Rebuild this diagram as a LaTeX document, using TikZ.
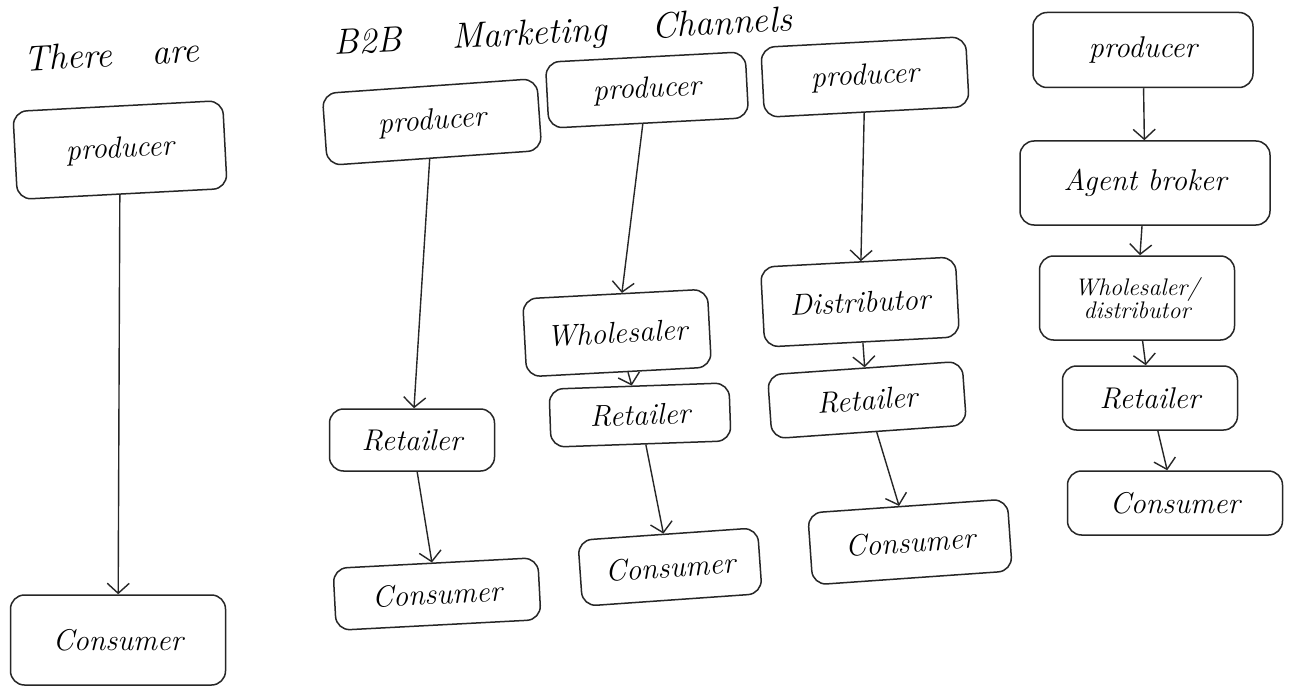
\documentclass[tikz,border=0pt]{standalone}
\usetikzlibrary{arrows.meta}
\tikzset{
  stage/.style={draw=black!85, line width=1.5pt, rounded corners=14pt, minimum width=#1, inner sep=2pt, align=center, font=\fontsize{30}{32}\selectfont\itshape},
  stage/.default=180pt,
  flow/.style={draw=black!85, line width=1.4pt, -{Straight Barb[length=10pt,width=22pt,line width=1.4pt]}},
  head/.style={font=\fontsize{36}{38}\selectfont\itshape, inner sep=0pt, rotate=3}
}
\begin{document}
\begin{tikzpicture}[x=1pt,y=-1pt]
  \useasboundingbox (0,0) rectangle (1301,690);
  \fill[white] (0,0) rectangle (1301,690);

  % heading
  \node[head] (title) at (408,42) {There\hspace{40pt}are\hspace{135pt}B2B\hspace{50pt}Marketing\hspace{45pt}Channels};

  % channel 1: producer -> consumer
  \node[stage=210pt, minimum height=88pt, rotate=3] (p1) at (120,150) {producer};
  \node[stage=215pt, minimum height=90pt] (c1) at (118,640) {Consumer};
  \draw[flow] (p1) -- (c1);

  % channel 2: producer -> retailer -> consumer
  \node[stage=215pt, minimum height=72pt, rotate=4] (p2) at (432,122) {producer};
  \node[stage=165pt, minimum height=62pt] (r2) at (412,440) {Retailer};
  \node[stage=205pt, minimum height=62pt, rotate=3] (c2) at (437,594) {Consumer};
  \draw[flow] (p2) -- (r2);
  \draw[flow] (r2) -- (c2);

  % channel 3: producer -> wholesaler -> retailer -> consumer
  \node[stage=200pt, minimum height=66pt, rotate=3] (p3) at (647,90) {producer};
  \node[stage=185pt, minimum height=78pt, rotate=3] (w3) at (617,333) {Wholesaler};
  \node[stage=180pt, minimum height=58pt, rotate=2] (r3) at (640,415) {Retailer};
  \node[stage=180pt, minimum height=66pt, rotate=4] (c3) at (670,567) {Consumer};
  \draw[flow] (p3) -- (w3);
  \draw[flow] (w3) -- (r3);
  \draw[flow] (r3) -- (c3);

  % channel 4: producer -> distributor -> retailer -> consumer
  \node[stage=205pt, minimum height=70pt, rotate=3] (p4) at (865,77) {producer};
  \node[stage=195pt, minimum height=80pt, rotate=3] (d4) at (860,302) {Distributor};
  \node[stage=195pt, minimum height=64pt, rotate=4] (r4) at (867,400) {Retailer};
  \node[stage=200pt, minimum height=72pt, rotate=4] (c4) at (910,542) {Consumer};
  \draw[flow] (p4) -- (d4);
  \draw[flow] (d4) -- (r4);
  \draw[flow] (r4) -- (c4);

  % channel 5: producer -> agent broker -> wholesaler/distributor -> retailer -> consumer
  \node[stage=220pt, minimum height=75pt] (p5) at (1143,50) {producer};
  \node[stage=250pt, minimum height=84pt] (a5) at (1145,183) {Agent broker};
  \node[stage=195pt, minimum height=84pt, font=\fontsize{24}{25}\selectfont\itshape] (w5) at (1137,298) {Wholesaler/\\[-2pt] distributor};
  \node[stage=175pt, minimum height=64pt] (r5) at (1150,398) {Retailer};
  \node[stage=215pt, minimum height=64pt] (c5) at (1175,503) {Consumer};
  \draw[flow] (p5) -- (a5);
  \draw[flow] (a5) -- (w5);
  \draw[flow] (w5) -- (r5);
  \draw[flow] (r5) -- (c5);
\end{tikzpicture}
\end{document}
